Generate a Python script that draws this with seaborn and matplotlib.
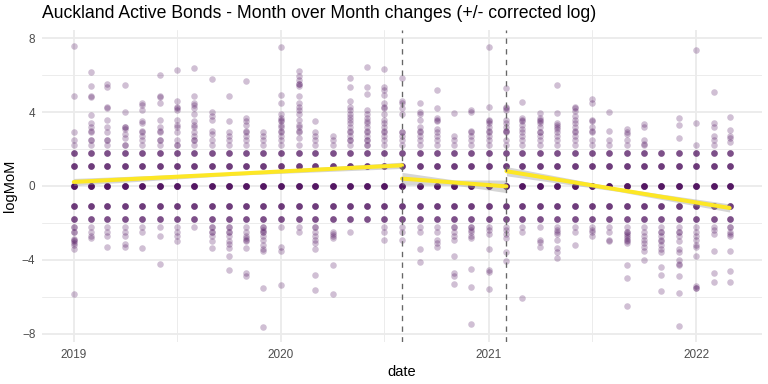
import numpy as np
import pandas as pd
import matplotlib
matplotlib.use("Agg")
import matplotlib.pyplot as plt
import matplotlib.dates as mdates
import seaborn as sns

# monthly observation dates (Jan 2019 - Mar 2022)
months = pd.date_range("2019-01-01", periods=39, freq="MS")

# levels shared by (almost) every month, with how many points stack on them
core_levels = [0.0, 1.1, -1.1, 1.79, -1.79]
core_counts = [8, 5, 5, 4, 4]

# remaining points per month
extras = [
    [7.6, 4.85, 2.9, 2.48, 2.2, -2.2, -2.2, -2.48, -2.48, -2.85, -2.9, -3.0, -3.1, -3.2, -3.4, -5.85],
    [6.15, 5.4, 4.9, 4.8, 3.87, 3.4, 3.2, 3.0, 2.9, 2.48, 2.48, 2.2, -2.2, -2.5, -2.7, -2.8],
    [5.5, 5.35, 4.3, 4.2, 3.6, 3.2, 2.9, 2.48, 2.48, 2.2, -2.2, -2.48, -2.7, -3.3],
    [5.45, 4.0, 3.2, 3.2, 3.1, 2.8, 2.6, 2.2, 2.2, -2.2, -2.48, -2.7, -3.15, -3.3],
    [4.5, 4.4, 4.1, 3.5, 3.4, 3.0, 2.9, 2.7, 2.48, 2.2, -2.2, -2.48, -3.35],
    [6.0, 4.9, 4.8, 4.5, 3.6, 3.2, 3.0, 2.9, 2.48, 2.48, 2.2, -2.2, -2.7, -4.2],
    [6.3, 4.6, 4.3, 4.2, 4.1, 3.6, 3.3, 3.2, 2.9, 2.48, 2.2, 2.2, -2.2, -2.48, -2.7, -3.0],
    [6.4, 4.9, 4.5, 4.4, 4.2, 3.9, 3.5, 3.3, 3.2, 2.9, 2.7, 2.48, 2.48, 2.2, -2.2],
    [5.8, 4.0, 3.8, 3.6, 3.0, 2.8, 2.48, 2.2, -2.2, -2.2, -2.48, -2.48, -2.7, -3.0, -3.35],
    [4.85, 3.5, 2.9, 2.7, 2.48, 2.2, -2.2, -2.2, -2.48, -2.48, -2.7, -3.0, -3.15, -3.35, -3.8, -4.55],
    [5.7, 3.7, 3.5, 3.3, 3.0, 2.9, 2.7, 2.48, 2.2, -2.2, -2.48, -2.7, -2.8, -2.9, -3.0, -3.35, -4.7, -4.9],
    [2.9, 2.7, 2.48, 2.2, -2.2, -2.2, -2.4, -2.48, -2.48, -2.7, -2.9, -3.2, -3.4, -3.5, -5.5, -7.65],
    [7.55, 4.95, 4.5, 3.9, 3.7, 3.6, 3.5, 3.3, 3.2, 3.0, 2.9, 2.7, 2.48, 2.2, -2.2, -3.3, -3.5, -5.35],
    [6.25, 5.95, 5.75, 5.55, 5.5, 5.4, 4.9, 4.5, 4.3, 4.1, 3.9, 3.6, 3.3, 3.2, 3.0, 2.9, 2.6, 2.2, -2.2, -2.48],
    [3.5, 2.9, 2.7, 2.48, 2.2, -2.2, -2.2, -2.48, -2.7, -2.9, -3.1, -3.4, -4.8, -5.65],
    [2.7, 2.48, 2.2, -2.48, -2.6, -2.7, -2.8, -4.3, -5.85],
    [5.85, 5.35, 4.6, 4.3, 4.1, 3.9, 3.75, 3.6, 3.4, 3.2, 3.0, 2.9, 2.7, 2.48, 2.48, 2.2, -2.48],
    [6.45, 5.35, 5.0, 4.1, 3.9, 3.7, 3.5, 3.4, 3.2, 3.0, 2.9, 2.7, 2.48, 2.48, 2.2, 2.2],
    [6.35, 5.35, 5.2, 4.95, 4.5, 4.3, 4.2, 3.9, 3.6, 3.4, 3.2, 3.0, 2.9, 2.7, 2.48, 2.2, -2.2, -2.48, -2.9],
    [5.85, 4.6, 4.5, 4.2, 3.9, 2.9, 2.9, 2.7, 2.48, 2.2, -2.2, -2.48, -2.9],
    [4.5, 4.0, 3.9, 3.6, 3.2, 3.0, 2.9, 2.7, 2.48, 2.2, -2.2, -2.48, -3.4, -4.1],
    [5.2, 4.2, 3.7, 3.6, 3.5, 3.1, 2.9, 2.7, 2.48, 2.2, -2.2, -2.48, -2.9, -3.1, -3.3],
    [3.95, 2.7, 2.48, 2.2, -2.2, -2.2, -2.48, -2.7, -2.9, -3.8, -4.7, -4.85, -5.3],
    [4.1, 4.0, 3.0, 2.9, 2.7, 2.48, 2.2, -2.2, -2.2, -2.4, -2.48, -2.7, -2.8, -4.5, -5.45, -7.5],
    [7.55, 4.3, 3.6, 3.5, 3.4, 3.2, 3.0, 2.9, 2.7, 2.48, 2.2, -2.2, -2.4, -2.6, -3.4, -4.55, -4.65, -5.6],
    [5.3, 4.3, 4.2, 4.1, 3.6, 3.4, 3.2, 3.0, 3.0, 2.9, 2.48, 2.2, -2.2, -2.4, -2.6, -2.8, -3.6, -4.05],
    [4.55, 3.7, 3.6, 3.5, 3.3, 3.1, 2.9, 2.7, 2.48, 2.2, -2.2, -2.48, -6.05],
    [3.95, 3.7, 3.6, 3.5, 3.4, 3.2, 2.9, 2.9, 2.7, 2.48, 2.2, -2.2, -2.9, -3.05, -3.3],
    [5.45, 3.95, 3.4, 3.3, 3.2, 3.1, 2.9, 2.7, 2.48, 2.2, -2.2, -2.4, -2.48, -2.6, -2.9, -3.35, -3.6, -3.9],
    [4.3, 4.2, 4.05, 3.8, 3.6, 3.4, 3.2, 3.0, 2.9, 2.7, 2.48, 2.2, -2.2, -2.48, -3.2],
    [4.7, 4.5, 3.6, 3.5, 3.2, 3.0, 2.9, 2.48, 2.2, -2.2, -2.4, -2.48, -2.7],
    [4.0, 3.0, 2.48, 2.2, -2.2, -2.48, -2.9, -3.0],
    [3.1, 2.9, 2.8, 2.48, 2.2, -2.2, -2.48, -2.48, -2.6, -2.7, -2.8, -2.9, -3.0, -3.1, -4.3, -5.0, -6.5],
    [3.35, 3.2, 2.48, 2.3, 2.2, -2.2, -2.48, -2.7, -2.9, -3.1, -3.3, -3.5, -4.0],
    [-2.2, -2.48, -2.48, -2.7, -2.9, -3.0, -3.2, -3.4, -3.6, -4.4, -4.8, -5.7],
    [3.7, 3.3, 2.6, -2.2, -2.48, -2.48, -2.7, -3.0, -3.4, -3.6, -4.0, -4.2, -4.3, -4.9, -5.8, -7.6],
    [7.35, 3.4, 2.2, -2.2, -2.48, -2.7, -2.9, -3.2, -3.3, -3.8, -5.4, -5.5, -5.55],
    [5.1, 3.4, 3.2, 2.7, 2.48, 2.2, -2.2, -2.4, -2.6, -3.5, -4.7, -5.2],
    [3.75, 3.05, 2.7, 2.6, 2.4, -2.2, -2.2, -2.48, -2.6, -2.7, -3.5, -4.6, -5.2],
]

# linear trend per period: start/end dates, fitted values, CI half-width (start, mid, end)
seg_start = ["2019-01-01", "2020-08-01", "2021-02-01"]
seg_end = ["2020-08-01", "2021-02-01", "2022-03-01"]
seg_y0 = [0.22, 0.40, 0.80]
seg_y1 = [1.12, -0.02, -1.19]
seg_ci = [[0.19, 0.08, 0.17], [0.34, 0.14, 0.34], [0.25, 0.1, 0.22]]

breaks = ["2020-08-01", "2021-02-01"]

rows = []
core = np.repeat(core_levels, core_counts)
for d, ex in zip(months, extras):
    for v in list(core) + ex:
        rows.append((d, v))
df = pd.DataFrame(rows, columns=["date", "logMoM"])

sns.set_theme(style="whitegrid")
plt.rcParams["font.family"] = ["Liberation Sans", "DejaVu Sans"]

fig = plt.figure(figsize=(8, 4), dpi=96)
ax = fig.add_axes([42 / 768, 42 / 384, 720 / 768, 312 / 384])

sns.scatterplot(data=df, x="date", y="logMoM", color="#440154", alpha=0.25,
                s=24, linewidth=0, ax=ax, zorder=3)

for a, b, y0, y1, ci in zip(seg_start, seg_end, seg_y0, seg_y1, seg_ci):
    t0, t1 = pd.Timestamp(a), pd.Timestamp(b)
    fit = pd.DataFrame({"date": [t0, t1], "logMoM": [y0, y1]})
    tm = t0 + (t1 - t0) / 2
    ym = (y0 + y1) / 2
    xs = [t0, tm, t1]
    ys = [y0, ym, y1]
    ax.fill_between(xs, [y - c for y, c in zip(ys, ci)], [y + c for y, c in zip(ys, ci)],
                    color="#999999", alpha=0.4, linewidth=0, zorder=4)
    sns.lineplot(data=fit, x="date", y="logMoM", color="#FDE725", linewidth=3,
                 ax=ax, zorder=5)

for b in breaks:
    ax.axvline(pd.Timestamp(b), color="#666666", linestyle=(0, (4, 4)), linewidth=1, zorder=6)

ax.set_xlim(pd.Timestamp("2019-01-01") - pd.Timedelta(days=56),
            pd.Timestamp("2022-03-01") + pd.Timedelta(days=57))
ax.set_ylim(-8.45, 8.45)
ax.xaxis.set_major_locator(mdates.YearLocator())
ax.xaxis.set_major_formatter(mdates.DateFormatter("%Y"))
ax.xaxis.set_minor_locator(mdates.MonthLocator(bymonth=7))
ax.set_yticks([-8, -4, 0, 4, 8])
ax.set_yticks([-6, -2, 2, 6], minor=True)

ax.grid(which="major", color="#EBEBEB", linewidth=1.4)
ax.grid(which="minor", color="#EBEBEB", linewidth=0.7)
for s in ax.spines.values():
    s.set_visible(False)
ax.tick_params(which="both", length=0, labelsize=8.8, labelcolor="#4D4D4D")
ax.tick_params(axis="x", pad=5)
ax.tick_params(axis="y", pad=5)

ax.set_xlabel("date", fontsize=11, color="black", labelpad=3)
ax.set_ylabel("logMoM", fontsize=11, color="black", labelpad=4)
ax.set_title("Auckland Active Bonds - Month over Month changes (+/- corrected log)",
             fontsize=13.2, loc="left", pad=9, color="black")

fig.savefig("out.png", dpi=96, facecolor="white")
